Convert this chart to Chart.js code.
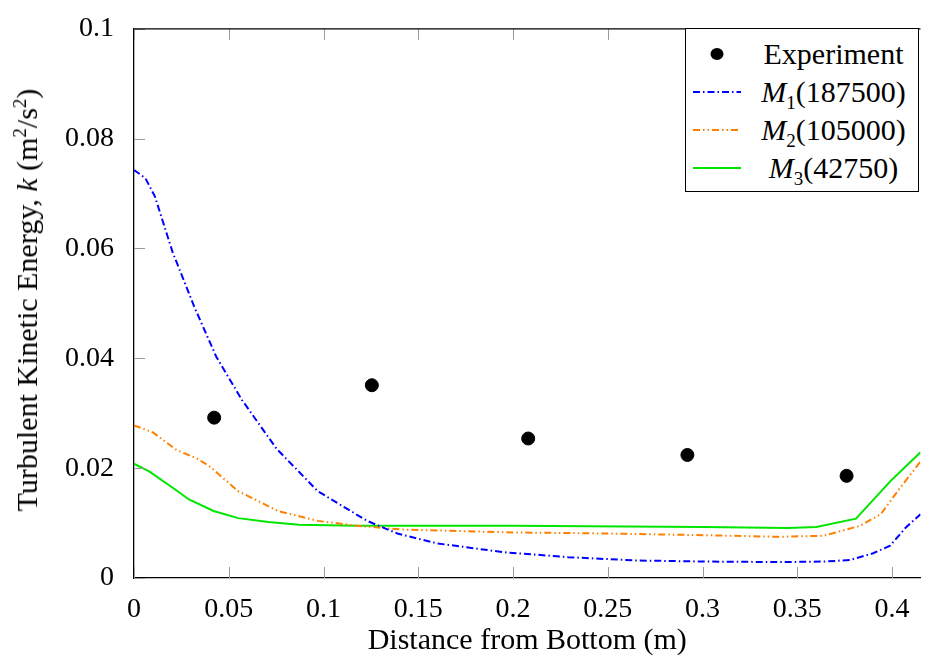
<!DOCTYPE html>
<html lang="en">

<head>
    <meta charset="utf-8">
    <title>Turbulent Kinetic Energy</title>
    <style>
        body { margin: 0; background: #fff; }
        .wrap { position: relative; width: 928px; height: 663px; font-family: "Liberation Serif", "DejaVu Serif", serif; }
        .ytitle {
            position: absolute; left: 27px; top: 300px; white-space: nowrap;
            transform: translate(-50%, -50%) rotate(-90deg); font-size: 30px; color: #000;
        }
        .ytitle sup, .legend sub { font-size: 19px; line-height: 0; }
        .legend {
            position: absolute; left: 685px; top: 28px; width: 234px; height: 164px;
            border: 1px solid #000; background: #fff; box-sizing: border-box; padding-top: 6px;
        }
        .row { display: flex; align-items: center; height: 38px; font-size: 30px; }
        .row svg { flex: 0 0 auto; margin-left: 7px; margin-right: 8px; }
        .row span { flex: 1; text-align: center; }
    </style>
</head>

<body>
    <div class="wrap">
        <canvas id="myChart" width="928" height="663"></canvas>
        <div class="ytitle">Turbulent Kinetic Energy, <i>k</i> (m<sup>2</sup>/s<sup>2</sup>)</div>
        <div class="legend">
            <div class="row">
                <svg width="48" height="16"><ellipse cx="24" cy="8" rx="6.5" ry="6" fill="#000"/></svg>
                <span>Experiment</span>
            </div>
            <div class="row">
                <svg width="48" height="16"><line x1="0" y1="8" x2="48" y2="8" stroke="#0000ff" stroke-width="2" stroke-dasharray="7 3 1.5 3"/></svg>
                <span><i>M</i><sub>1</sub>(187500)</span>
            </div>
            <div class="row">
                <svg width="48" height="16"><line x1="0" y1="8" x2="48" y2="8" stroke="#ff8000" stroke-width="2" stroke-dasharray="7 3 1.5 3 1.5 3"/></svg>
                <span><i>M</i><sub>2</sub>(105000)</span>
            </div>
            <div class="row">
                <svg width="48" height="16"><line x1="0" y1="8" x2="48" y2="8" stroke="#00e600" stroke-width="2"/></svg>
                <span><i>M</i><sub>3</sub>(42750)</span>
            </div>
        </div>
    </div>

    <script type="text/javascript" src="https://cdn.jsdelivr.net/npm/chart.js/dist/chart.umd.min.js"></script>
    <script>
        // values
        const expX = [0.0423, 0.1255, 0.208, 0.292, 0.376];
        const expY = [0.0292, 0.0351, 0.0254, 0.0224, 0.0186];

        const m1X = [0, 0.006, 0.011, 0.0204, 0.0319, 0.0434, 0.057, 0.0753, 0.097, 0.123, 0.139, 0.16, 0.195, 0.229, 0.264, 0.3, 0.341, 0.365, 0.378, 0.39, 0.399, 0.407, 0.415];
        const m1Y = [0.0743, 0.0728, 0.0695, 0.0593, 0.0493, 0.0403, 0.0324, 0.0235, 0.0158, 0.0104, 0.0081, 0.0063, 0.0047, 0.0038, 0.0032, 0.0030, 0.0029, 0.0030, 0.0033, 0.0045, 0.0059, 0.0091, 0.0116];

        const m2X = [0, 0.01, 0.0225, 0.033, 0.04, 0.055, 0.076, 0.097, 0.118, 0.143, 0.2, 0.25, 0.3, 0.341, 0.364, 0.383, 0.394, 0.404, 0.415];
        const m2Y = [0.0278, 0.0265, 0.0233, 0.0218, 0.0203, 0.0158, 0.0122, 0.0104, 0.0095, 0.0088, 0.0083, 0.0081, 0.0078, 0.0075, 0.0077, 0.0095, 0.0116, 0.0163, 0.0212];

        const m3X = [0, 0.008, 0.021, 0.029, 0.042, 0.055, 0.071, 0.087, 0.118, 0.2, 0.3, 0.345, 0.36, 0.381, 0.399, 0.415];
        const m3Y = [0.0208, 0.0194, 0.0163, 0.0143, 0.0122, 0.0109, 0.0102, 0.0097, 0.0095, 0.0095, 0.0093, 0.0091, 0.0093, 0.0108, 0.0176, 0.0229];

        const xMax = 0.415;
        const xStep = 0.05;
        const yMax = 0.1;
        const yStep = 0.02;

        const serif = '"Liberation Serif", "DejaVu Serif", serif';

        const pts = (xs, ys) => xs.map((x, i) => ({ x: x, y: ys[i] }));

        // inward tick marks + top frame line
        const tickMarks = {
            id: 'tickMarks',
            afterDatasetsDraw(chart) {
                const { ctx, chartArea: a, scales } = chart;
                ctx.save();
                ctx.strokeStyle = '#9a9a9a';
                ctx.lineWidth = 1;
                ctx.beginPath();
                scales.x.ticks.forEach(t => {
                    const px = Math.round(scales.x.getPixelForValue(t.value)) + 0.5;
                    ctx.moveTo(px, a.bottom); ctx.lineTo(px, a.bottom - 11);
                    ctx.moveTo(px, a.top); ctx.lineTo(px, a.top + 11);
                });
                scales.y.ticks.forEach(t => {
                    const py = Math.round(scales.y.getPixelForValue(t.value)) + 0.5;
                    ctx.moveTo(a.left, py); ctx.lineTo(a.left + 11, py);
                });
                ctx.stroke();
                ctx.strokeStyle = '#000';
                ctx.lineWidth = 1.3;
                ctx.beginPath();
                ctx.moveTo(a.left, a.top); ctx.lineTo(a.right, a.top);
                ctx.stroke();
                ctx.restore();
            }
        };

        const fmt = v => String(+v.toFixed(3));

        const myChart = new Chart(document.getElementById('myChart'), {
            type: 'scatter',
            data: {
                datasets: [{
                    label: 'Experiment',
                    data: pts(expX, expY),
                    backgroundColor: '#000',
                    borderColor: '#000',
                    pointRadius: 6.5,
                    pointHoverRadius: 6.5,
                    showLine: false
                }, {
                    label: 'M1(187500)',
                    data: pts(m1X, m1Y),
                    borderColor: '#0000ff',
                    borderWidth: 2,
                    borderDash: [7, 3, 1.5, 3],
                    pointRadius: 0,
                    showLine: true,
                    tension: 0
                }, {
                    label: 'M2(105000)',
                    data: pts(m2X, m2Y),
                    borderColor: '#ff8000',
                    borderWidth: 2,
                    borderDash: [7, 3, 1.5, 3, 1.5, 3],
                    pointRadius: 0,
                    showLine: true,
                    tension: 0
                }, {
                    label: 'M3(42750)',
                    data: pts(m3X, m3Y),
                    borderColor: '#00e600',
                    borderWidth: 2,
                    pointRadius: 0,
                    showLine: true,
                    tension: 0
                }]
            },
            options: {
                responsive: false,
                animation: false,
                layout: { padding: { top: 20, right: 0, left: 0, bottom: 0 } },
                plugins: {
                    legend: { display: false },
                    tooltip: { enabled: false }
                },
                scales: {
                    x: {
                        type: 'linear',
                        min: 0,
                        max: xMax,
                        grid: { display: false },
                        border: { color: '#000', width: 1.3 },
                        ticks: {
                            stepSize: xStep,
                            includeBounds: false,
                            maxRotation: 0,
                            padding: 7,
                            color: '#000',
                            font: { family: serif, size: 28 },
                            callback: fmt
                        },
                        title: {
                            display: true,
                            text: 'Distance from Bottom (m)',
                            color: '#000',
                            font: { family: serif, size: 30 },
                            padding: { top: 4, bottom: 4 }
                        },
                        afterFit: s => { s.height = 85; }
                    },
                    y: {
                        min: 0,
                        max: yMax,
                        grid: { display: false },
                        border: { color: '#000', width: 1.3 },
                        ticks: {
                            stepSize: yStep,
                            padding: 12,
                            color: '#000',
                            font: { family: serif, size: 28 },
                            callback: fmt
                        },
                        afterFit: s => { s.width = 134; }
                    }
                }
            },
            plugins: [tickMarks]
        });
    </script>
</body>

</html>
